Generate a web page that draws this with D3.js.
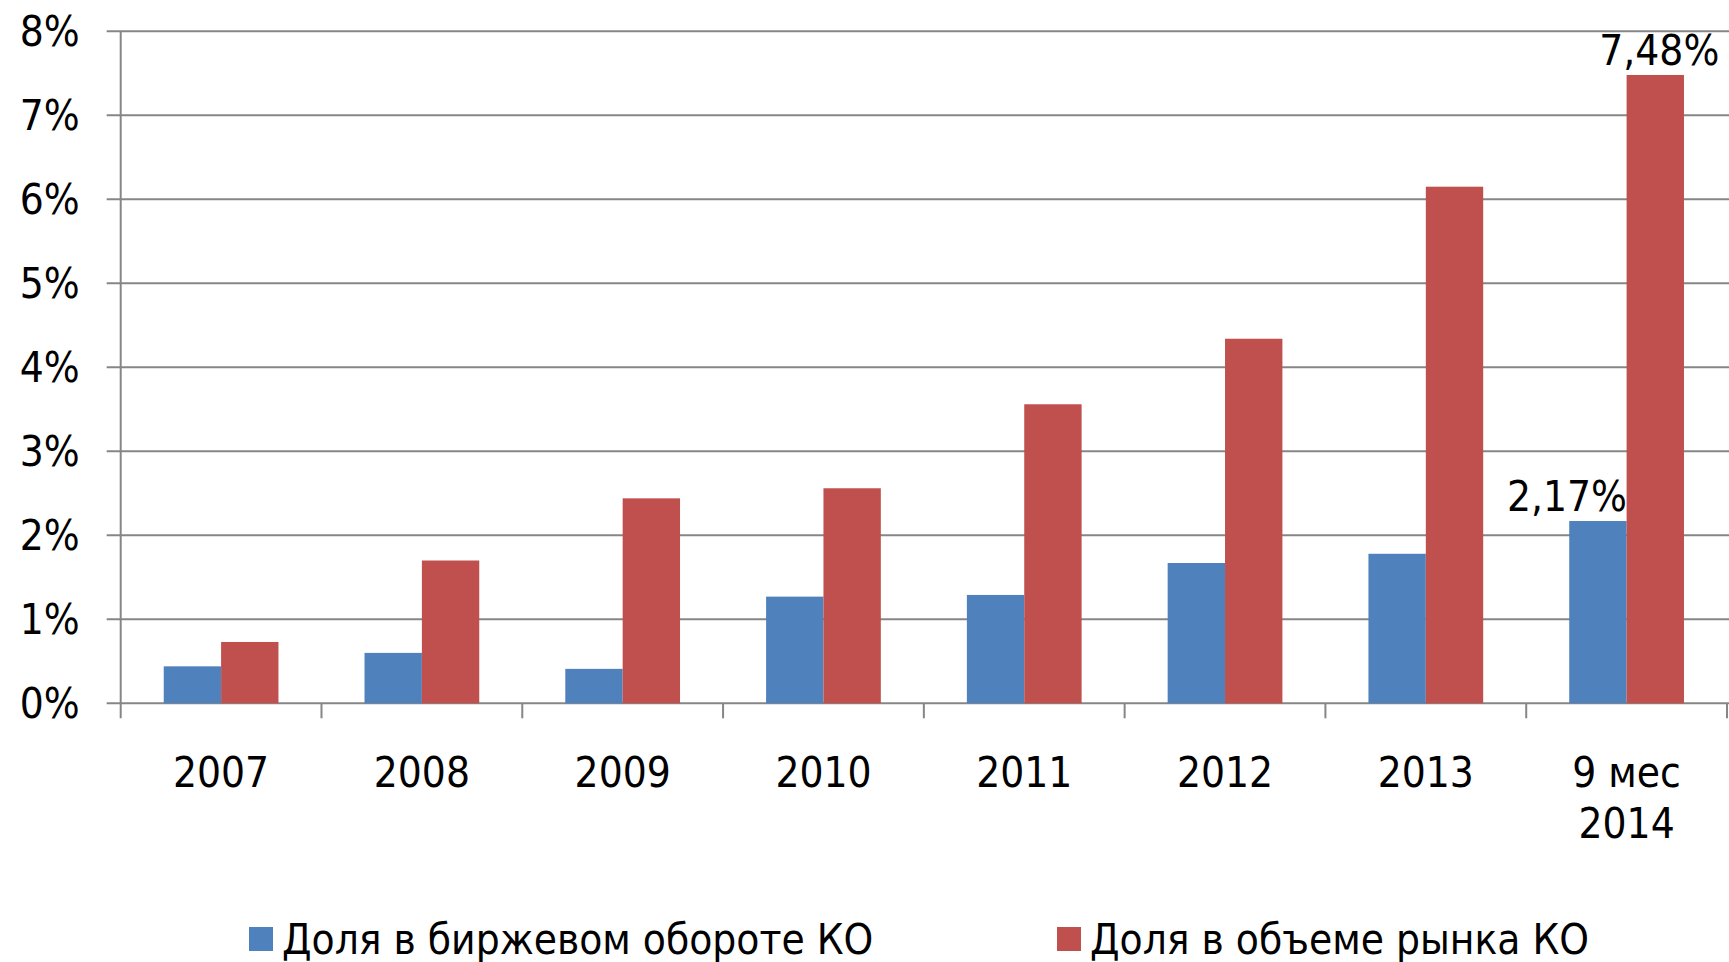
<!DOCTYPE html>
<html>
<head>
<meta charset="utf-8">
<script src="https://cdn.jsdelivr.net/npm/d3@7"></script>
<style>
  body { margin: 0; background: #fff; }
  svg text { font-family: "DejaVu Sans Condensed", "DejaVu Sans", sans-serif; font-stretch: condensed; fill: #000; }
</style>
</head>
<body>
<svg id="chart" width="1729" height="962"></svg>
<script>
// data
var categories = ["2007", "2008", "2009", "2010", "2011", "2012", "2013", "9 мес|2014"];
var seriesNames = ["Доля в биржевом обороте КО", "Доля в объеме рынка КО"];
var turnoverShare = [0.44, 0.60, 0.41, 1.27, 1.29, 1.67, 1.78, 2.17];
var marketShare = [0.73, 1.70, 2.44, 2.56, 3.56, 4.34, 6.15, 7.48];
var yTicks = [0, 1, 2, 3, 4, 5, 6, 7, 8];
var colors = ["#4F81BD", "#C0504D"];
// only the last pair carries value labels
var labelled = ["9 мес|2014"];

var svg = d3.select("#chart"),
  plotLeft = 120.7, plotRight = 1727, plotTop = 31.3, plotBottom = 703.3,
  fontSize = 42;

var x0 = d3.scaleBand().domain(categories).range([plotLeft, plotRight]).padding(0);
var x1 = d3.scaleBand().domain([0, 1]).range([0, x0.bandwidth()]).paddingInner(0).paddingOuter(0.75);
var y = d3.scaleLinear().domain([0, 8]).range([plotBottom, plotTop]);

var grey = "#868686";

// gridlines + y ticks
svg.append("g")
  .selectAll("line")
  .data(yTicks)
  .enter().append("line")
  .attr("x1", plotLeft - 14).attr("x2", 1729)
  .attr("y1", function(d) { return y(d); })
  .attr("y2", function(d) { return y(d); })
  .attr("stroke", grey).attr("stroke-width", 2);

svg.append("g")
  .selectAll("text")
  .data(yTicks)
  .enter().append("text")
  .attr("x", plotLeft - 41)
  .attr("y", function(d) { return y(d) + 15; })
  .attr("text-anchor", "end")
  .attr("font-size", fontSize)
  .text(function(d) { return d + "%"; });

// bars
var rows = categories.map(function(c, i) {
  return { cat: c, vals: [turnoverShare[i], marketShare[i]] };
});

var groups = svg.append("g")
  .selectAll("g")
  .data(rows)
  .enter().append("g")
  .attr("transform", function(d) { return "translate(" + x0(d.cat) + ",0)"; });

groups.selectAll("rect")
  .data(function(d) { return d.vals.map(function(v, k) { return { k: k, v: v }; }); })
  .enter().append("rect")
  .attr("x", function(d) { return x1(d.k); })
  .attr("width", x1.bandwidth())
  .attr("y", function(d) { return y(d.v); })
  .attr("height", function(d) { return y(0) - y(d.v); })
  .attr("fill", function(d) { return colors[d.k]; });

// value labels
groups.filter(function(d) { return labelled.indexOf(d.cat) >= 0; })
  .selectAll("text.val")
  .data(function(d) { return d.vals.map(function(v, k) { return { k: k, v: v }; }); })
  .enter().append("text")
  .attr("class", "val")
  .attr("x", function(d) { return x1(d.k) + x1.bandwidth() / 2 + (d.k === 0 ? -31 : 4); })
  .attr("y", function(d) { return y(d.v) - 10; })
  .attr("text-anchor", "middle")
  .attr("font-size", fontSize)
  .text(function(d) { return d.v.toFixed(2).replace(".", ",") + "%"; });

// axes lines
svg.append("line")
  .attr("x1", plotLeft).attr("x2", plotLeft)
  .attr("y1", plotTop).attr("y2", plotBottom + 15)
  .attr("stroke", grey).attr("stroke-width", 2);

svg.append("g")
  .selectAll("line")
  .data(categories.slice(1).concat(["end"]))
  .enter().append("line")
  .attr("x1", function(d) { return d === "end" ? plotRight : x0(d); })
  .attr("x2", function(d) { return d === "end" ? plotRight : x0(d); })
  .attr("y1", plotBottom).attr("y2", plotBottom + 15)
  .attr("stroke", grey).attr("stroke-width", 2);

// category labels
var catText = svg.append("g")
  .selectAll("text")
  .data(categories)
  .enter().append("text")
  .attr("x", function(d) { return x0(d) + x0.bandwidth() / 2; })
  .attr("y", 787)
  .attr("text-anchor", "middle")
  .attr("font-size", fontSize);

catText.selectAll("tspan")
  .data(function(d) { return d.split("|"); })
  .enter().append("tspan")
  .attr("x", function() { return d3.select(this.parentNode).attr("x"); })
  .attr("dy", function(d, i) { return i === 0 ? 0 : 51; })
  .text(function(d) { return d; });

// legend
var legendX = [249, 1057];
var legend = svg.append("g")
  .selectAll("g")
  .data(seriesNames)
  .enter().append("g")
  .attr("transform", function(d, i) { return "translate(" + legendX[i] + ",927)"; });

legend.append("rect")
  .attr("width", 24).attr("height", 24)
  .attr("fill", function(d, i) { return colors[i]; });

legend.append("text")
  .attr("x", 33).attr("y", 27)
  .attr("font-size", fontSize)
  .text(function(d) { return d; });
</script>
</body>
</html>
